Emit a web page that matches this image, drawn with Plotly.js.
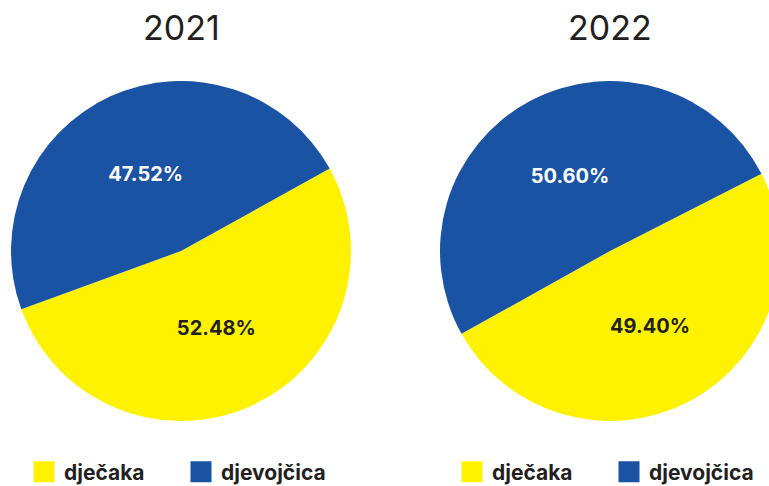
<!DOCTYPE html>
<html>
<head>
<meta charset="utf-8">
<script src="https://cdn.plot.ly/plotly-3.0.1.min.js"></script>
<style>
  html, body { margin: 0; padding: 0; overflow: hidden; background: #fff; }
  #chart { width: 800px; height: 486px; }
</style>
</head>
<body>
<div id="chart"></div>
<script>
const years = ["2021", "2022"];
const labels = ["dječaka", "djevojčica"];
const values2021 = [52.48, 47.52];
const values2022 = [49.40, 50.60];
const sliceColors = ["#fff200", "#1a52a4"];
const textColors = ["#231f20", "#ffffff"];

const W = 800, H = 486;
// pixel boxes for each pie (left, right, top, bottom)
const boxes = [[11, 351, 81, 421], [440, 780, 81, 421]];

function pieTrace(values, box, legendId, rotation) {
  return {
    type: "pie",
    labels: labels,
    values: values,
    sort: false,
    direction: "clockwise",
    rotation: rotation,
    domain: { x: [box[0] / W, box[1] / W], y: [1 - box[3] / H, 1 - box[2] / H] },
    marker: { colors: sliceColors },
    texttemplate: "%{percent:.2%}",
    textposition: "inside",
    insidetextorientation: "horizontal",
    insidetextfont: { family: "Inter", size: 20, weight: "bold", color: textColors },
    hoverinfo: "label+percent",
    legend: legendId,
    legendgroup: legendId,
  };
}

const traces = [
  pieTrace(values2021, boxes[0], "legend", 61),
  pieTrace(values2022, boxes[1], "legend2", 63),
];

const legendBase = {
  orientation: "h",
  xanchor: "left",
  yanchor: "middle",
  y: 14 / H,
  entrywidth: 112,
  entrywidthmode: "pixels",
  font: { family: "Inter", size: 21, weight: "bold", color: "#231f20" },
  bgcolor: "rgba(0,0,0,0)",
  traceorder: "normal",
};

const layout = {
  width: W,
  height: H,
  margin: { l: 0, r: 0, t: 0, b: 0, autoexpand: false },
  paper_bgcolor: "#ffffff",
  showlegend: true,
  legend: { ...legendBase, x: 24 / W },
  legend2: { ...legendBase, x: 452 / W },
  annotations: years.map((yr, i) => ({
    text: yr,
    xref: "paper", yref: "paper",
    x: (boxes[i][0] + boxes[i][1]) / 2 / W,
    y: 1 - 27 / H,
    xanchor: "center", yanchor: "middle",
    showarrow: false,
    font: { family: "Inter", size: 34, color: "#231f20" },
  })),
};

const gd = document.getElementById("chart");
Plotly.newPlot(gd, traces, layout, { displayModeBar: false }).then(() => {
  // bigger legend squares, like the source chart
  gd.on("plotly_afterplot", enlargeKeys);
  enlargeKeys();
});

function enlargeKeys() {
  gd.querySelectorAll("path.legendpie").forEach((p) => p.setAttribute("d", "M10.5,10.5H-10.5V-10.5H10.5Z"));
}
</script>
</body>
</html>
